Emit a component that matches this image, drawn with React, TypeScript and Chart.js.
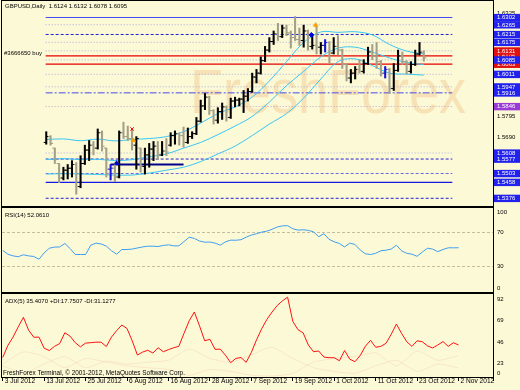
import React, { useEffect, useRef } from 'react';
import { Chart, registerables } from 'chart.js';

Chart.register(...registerables);

// ---------------- data ----------------
const symbolTitle = 'GBPUSD,Daily  1.6124 1.6132 1.6078 1.6095';
const orderLabel = '#3666650 buy';
const orderPrice = 1.6105;
const watermark = 'FreshForex';
const rsiTitle = 'RSI(14) 52.0610';
const adxTitle = 'ADX(5) 35.4070 +DI:17.7507 -DI:31.1277';
const footer = 'FreshForex Terminal, \u00A9 2001-2012, MetaQuotes Software Corp.';

const dateTickIndex = [0, 8, 16, 24, 32, 40, 48, 56, 64, 72, 80, 88];
const dateTickLabels = ['3 Jul 2012', '13 Jul 2012', '25 Jul 2012', '6 Aug 2012', '16 Aug 2012', '28 Aug 2012', '7 Sep 2012', '19 Sep 2012', '1 Oct 2012', '11 Oct 2012', '23 Oct 2012', '2 Nov 2012'];

const opens = [1.5662, 1.5692, 1.5633, 1.5554, 1.5480, 1.5520, 1.5530, 1.5549, 1.5436, 1.5554,
  1.5623, 1.5648, 1.5633, 1.5712, 1.5633, 1.5525, 1.5530, 1.5485, 1.5712, 1.5692,
  1.5682, 1.5648, 1.5633, 1.5539, 1.5598, 1.5628, 1.5643, 1.5598, 1.5618, 1.5648,
  1.5697, 1.5707, 1.5697, 1.5662, 1.5692, 1.5707, 1.5771, 1.5849, 1.5894, 1.5825,
  1.5776, 1.5820, 1.5844, 1.5790, 1.5874, 1.5879, 1.5884, 1.5899, 1.5923, 1.5997,
  1.6017, 1.6081, 1.6135, 1.6179, 1.6218, 1.6204, 1.6248, 1.6223, 1.6199, 1.6189,
  1.6184, 1.6233, 1.6154, 1.6159, 1.6150, 1.6159, 1.6174, 1.6120, 1.6154, 1.6135,
  1.6061, 1.5992, 1.6017, 1.6036, 1.6026, 1.6066, 1.6125, 1.6105, 1.6076, 1.6017,
  1.6036, 1.5938, 1.6031, 1.6105, 1.6076, 1.6026, 1.6061, 1.6115, 1.6124];
const highs = [1.5717, 1.5697, 1.5633, 1.5554, 1.5535, 1.5549, 1.5569, 1.5559, 1.5594, 1.5648,
  1.5672, 1.5667, 1.5731, 1.5721, 1.5633, 1.5549, 1.5559, 1.5721, 1.5766, 1.5746,
  1.5726, 1.5692, 1.5633, 1.5633, 1.5657, 1.5667, 1.5667, 1.5667, 1.5682, 1.5712,
  1.5721, 1.5712, 1.5741, 1.5736, 1.5717, 1.5790, 1.5879, 1.5913, 1.5899, 1.5830,
  1.5840, 1.5864, 1.5849, 1.5889, 1.5894, 1.5889, 1.5928, 1.5938, 1.6017, 1.6036,
  1.6100, 1.6154, 1.6199, 1.6233, 1.6272, 1.6263, 1.6263, 1.6233, 1.6307, 1.6248,
  1.6263, 1.6238, 1.6209, 1.6258, 1.6174, 1.6189, 1.6179, 1.6199, 1.6209, 1.6140,
  1.6066, 1.6036, 1.6051, 1.6086, 1.6086, 1.6150, 1.6164, 1.6174, 1.6081, 1.6051,
  1.6041, 1.6066, 1.6135, 1.6125, 1.6081, 1.6076, 1.6135, 1.6174, 1.6132];
const lows = [1.5653, 1.5648, 1.5554, 1.5456, 1.5470, 1.5475, 1.5485, 1.5397, 1.5430, 1.5549,
  1.5569, 1.5598, 1.5628, 1.5618, 1.5485, 1.5470, 1.5461, 1.5480, 1.5682, 1.5672,
  1.5623, 1.5525, 1.5510, 1.5500, 1.5535, 1.5569, 1.5574, 1.5594, 1.5594, 1.5643,
  1.5653, 1.5648, 1.5638, 1.5657, 1.5682, 1.5702, 1.5766, 1.5830, 1.5805, 1.5756,
  1.5761, 1.5780, 1.5771, 1.5785, 1.5844, 1.5849, 1.5815, 1.5874, 1.5918, 1.5967,
  1.6012, 1.6076, 1.6125, 1.6164, 1.6184, 1.6199, 1.6209, 1.6145, 1.6184, 1.6159,
  1.6150, 1.6135, 1.6140, 1.6115, 1.6115, 1.6125, 1.6066, 1.6115, 1.6110, 1.6041,
  1.5977, 1.5967, 1.5987, 1.6017, 1.6017, 1.6061, 1.6086, 1.6041, 1.6002, 1.5992,
  1.5913, 1.5928, 1.6026, 1.6061, 1.6012, 1.6017, 1.6056, 1.6110, 1.6078];
const closes = [1.5692, 1.5657, 1.5574, 1.5480, 1.5520, 1.5530, 1.5549, 1.5436, 1.5554, 1.5623,
  1.5648, 1.5633, 1.5712, 1.5643, 1.5525, 1.5530, 1.5485, 1.5712, 1.5692, 1.5682,
  1.5648, 1.5682, 1.5539, 1.5598, 1.5628, 1.5643, 1.5598, 1.5618, 1.5613, 1.5697,
  1.5707, 1.5697, 1.5662, 1.5692, 1.5707, 1.5771, 1.5849, 1.5894, 1.5825, 1.5776,
  1.5820, 1.5844, 1.5790, 1.5874, 1.5879, 1.5884, 1.5899, 1.5923, 1.5997, 1.6017,
  1.6081, 1.6135, 1.6179, 1.6218, 1.6204, 1.6248, 1.6223, 1.6199, 1.6189, 1.6184,
  1.6233, 1.6154, 1.6159, 1.6150, 1.6159, 1.6174, 1.6120, 1.6154, 1.6135, 1.6061,
  1.5992, 1.6017, 1.6036, 1.6026, 1.6066, 1.6125, 1.6105, 1.6076, 1.6017, 1.6036,
  1.5938, 1.6031, 1.6105, 1.6076, 1.6026, 1.6061, 1.6115, 1.6124, 1.6095];
const highlightedBars = [15, 65, 79];

// moving-average lines read at every 4th bar
const maIndex = [0, 4, 8, 12, 16, 20, 24, 28, 32, 36, 40, 44, 48, 52, 56, 60, 64, 68, 72, 76, 80, 84, 88];
const maFast = [1.5677, 1.5680, 1.5671, 1.5679, 1.5670, 1.5677, 1.5682, 1.5692, 1.5717, 1.5761, 1.5810, 1.5844, 1.5894, 1.5977, 1.6076, 1.6174, 1.6228, 1.6226, 1.6229, 1.6213, 1.6164, 1.6130, 1.6115];
const maMid = [1.5574, 1.5579, 1.5574, 1.5576, 1.5569, 1.5574, 1.5589, 1.5603, 1.5633, 1.5662, 1.5702, 1.5746, 1.5795, 1.5869, 1.5953, 1.6026, 1.6100, 1.6145, 1.6150, 1.6125, 1.6095, 1.6071, 1.6061];
const maSlow = [1.5500, 1.5502, 1.5500, 1.5498, 1.5495, 1.5495, 1.5505, 1.5520, 1.5535, 1.5564, 1.5603, 1.5643, 1.5697, 1.5756, 1.5810, 1.5889, 1.5987, 1.6076, 1.6090, 1.6056, 1.6017, 1.6012, 1.6007];

const priceTicks = [1.6325, 1.5795, 1.5690];
const levelPrices = [1.6302, 1.6265, 1.6215, 1.6175, 1.6131, 1.6105, 1.6085, 1.6063, 1.6011, 1.5947, 1.5916, 1.5846, 1.5608, 1.5577, 1.5503, 1.5458, 1.5376];

const tradeLineIndex = [15, 32];
const tradeLinePrice = 1.5549;
const markerIndex = [16.4, 20, 20.3, 61.8, 62.8];
const markerPrice = [1.5556, 1.5731, 1.5672, 1.6213, 1.6263];

const rsiValues = [49, 44.5, 42.5, 41.5, 43.8, 42.5, 41.8, 38.5, 46, 51.5,
  52.8, 53, 57.1, 51.2, 44.1, 44.1, 44.1, 55, 57.5, 56.5,
  54, 48.5, 44.5, 50, 50, 50.5, 51.8, 53, 53.9, 53.9,
  53.5, 54.8, 55.5, 54.3, 54.3, 59.3, 64.5, 63, 60, 58.6,
  58.8, 57.5, 55.1, 59, 61, 60.9, 61.5, 64.5, 67, 68.5,
  70.5, 71.6, 73.8, 76.5, 77.8, 78, 74.5, 72.8, 73.2, 72.5,
  70.8, 65, 68.5, 62, 59, 57.1, 53, 57.5, 56, 49.5,
  45, 44.1, 45.5, 48.5, 49.2, 50.5, 55, 48.5, 45.5, 44.5,
  42, 47, 51.5, 50.5, 47.5, 50, 52, 52, 52.06];
const rsiLevels = [70, 30];
const rsiTicks = [100, 70, 30, 0];

const adxValues = [29, 42, 51, 62, 72.3, 58.5, 50.8, 51, 39, 36.5,
  41, 44, 55.7, 52, 45, 40.5, 44.5, 45, 45.5, 45.5,
  40.8, 51, 58, 64, 60.2, 47, 31.7, 34.8, 36.8, 33.8,
  39.5, 35.2, 37.5, 39.5, 41, 55, 68.5, 78, 63, 47,
  48.6, 37.8, 38, 31.5, 23.4, 28, 29, 23.8, 34.5, 48,
  60, 70, 78, 85, 90, 94, 68, 59, 55.5, 42.5,
  35.2, 36, 29.5, 28.8, 28.8, 25.5, 36.5, 27.2, 24.5, 31,
  41, 47.5, 40, 41, 44.3, 54, 65, 55, 46, 41,
  47, 46, 41.5, 39.3, 42.5, 46.2, 41, 44.9, 42.5];
const diIndex = [0, 4, 8, 12, 16, 20, 24, 28, 32, 36, 40, 44, 48, 52, 56, 60, 64, 68, 72, 76, 80, 84, 88];
const plusDI = [20, 12, 22, 30, 18, 25, 22, 24, 26, 38, 28, 24, 32, 40, 28, 18, 14, 12, 20, 26, 14, 22, 17.75];
const minusDI = [22, 35, 30, 18, 28, 24, 20, 18, 16, 10, 16, 14, 10, 9, 12, 24, 28, 30, 34, 20, 36, 26, 31.13];
const adxTicks = [92, 69, 46, 23, 0];

// ---------------- styles ----------------
const FONT = '"Liberation Sans", Arial, sans-serif';
const BG = '#FCF9D6';
const X_MIN = -0.135;
const X_MAX = 94.65;
const UP = '#000000';
const DOWN = '#A39F88';
const BLUE_BAR = '#1414d8';
const MA_COLOR = '#38c6f4';
const BOX_BLUE = '#2222ee';
const BOX_RED = '#e01010';
const BOX_PURPLE = '#9a3ad6';
const DOT = [1, 2];
const DASH = [3, 2];
const DASHDOT = [7, 2, 2, 2];
const levelStyles = [
  { color: '#4646f4', dash: [], width: 1, box: BOX_BLUE },
  { color: '#aaaadc', dash: DOT, width: 1, box: BOX_BLUE },
  { color: '#2020d8', dash: DASH, width: 1, box: BOX_BLUE },
  { color: '#aaaadc', dash: DOT, width: 1, box: BOX_BLUE },
  { color: '#b4b0cc', dash: DOT, width: 1, box: BOX_RED },
  { color: '#e80000', dash: [], width: 1.2, box: BOX_RED },
  { color: '#aaaadc', dash: DOT, width: 1, box: BOX_BLUE },
  { color: '#e80000', dash: [], width: 1.2, box: BOX_RED },
  { color: '#aaaadc', dash: DOT, width: 1, box: BOX_BLUE },
  { color: '#aaaadc', dash: DOT, width: 1, box: BOX_BLUE },
  { color: '#4a4ae6', dash: DASHDOT, width: 1, box: BOX_BLUE },
  { color: '#c8a4c4', dash: DOT, width: 1, box: BOX_PURPLE },
  { color: '#aaaadc', dash: DOT, width: 1, box: BOX_BLUE },
  { color: '#2020d8', dash: DASH, width: 1, box: BOX_BLUE },
  { color: '#6a6ae4', dash: DASH, width: 1, box: BOX_BLUE },
  { color: '#1818e0', dash: [], width: 1.2, box: BOX_BLUE },
  { color: '#2020d8', dash: DASH, width: 1, box: BOX_BLUE },
];
const labelOrder = [0, 1, 2, 3, 5, 4, 7, 6, 8, 9, 10, 11, 12, 13, 14, 15, 16];
const markerStyles = ['triangle', 'crossRot', 'triangle', 'rectRot', 'triangle'];
const markerColors = ['#0000e0', '#ff0000', '#ffa000', '#0000e0', '#ffa000'];

// ---------------- helpers ----------------
const clamp = (v: number, lo: number, hi: number) => Math.min(Math.max(v, lo), hi);

function axisText(ctx: CanvasRenderingContext2D, text: string, y: number, box?: string) {
  ctx.font = `6px ${FONT}`;
  ctx.textAlign = 'left';
  ctx.textBaseline = 'middle';
  if (box) {
    ctx.fillStyle = box;
    ctx.fillRect(494, y - 3.6, 26, 7.4);
    ctx.fillStyle = '#ffffff';
  } else {
    ctx.fillStyle = '#000000';
  }
  ctx.fillText(text, 497, y + 0.3);
}

function plainText(ctx: CanvasRenderingContext2D, text: string, x: number, y: number, size = 6) {
  ctx.font = `${size}px ${FONT}`;
  ctx.textAlign = 'left';
  ctx.textBaseline = 'middle';
  ctx.fillStyle = '#000000';
  ctx.fillText(text, x, y);
}

const hiddenX = { type: 'linear', min: X_MIN, max: X_MAX, display: false };
const baseOptions = {
  responsive: false,
  animation: false,
  devicePixelRatio: 1,
  events: [],
  plugins: { legend: { display: false }, tooltip: { enabled: false }, title: { display: false } },
};

function mainConfig(): any {
  const idx = closes.map((_, i) => i);
  const colors = idx.map((i) => (highlightedBars.includes(i) ? BLUE_BAR : closes[i] >= opens[i] ? UP : DOWN));
  const levelSets = levelPrices.map((p, k) => ({
    type: 'line',
    data: [{ x: X_MIN, y: p }, { x: X_MAX, y: p }],
    borderColor: levelStyles[k].color,
    borderWidth: levelStyles[k].width,
    borderDash: levelStyles[k].dash,
    pointRadius: 0,
    order: 10,
  }));
  const maSet = (vals: number[]) => ({
    type: 'line',
    data: maIndex.map((x, k) => ({ x, y: vals[k] })),
    borderColor: MA_COLOR,
    borderWidth: 1,
    pointRadius: 0,
    tension: 0.35,
    order: 6,
  });
  const tick = (vals: number[], off: number) => ({
    type: 'line',
    showLine: false,
    data: idx.map((i) => ({ x: i + off, y: vals[i] })),
    pointStyle: 'line',
    pointRadius: 1.4,
    pointBorderWidth: 1,
    pointBorderColor: colors,
    pointBackgroundColor: colors,
    order: 2,
  });
  const plugin = {
    id: 'mainDeco',
    beforeDatasetsDraw(chart: any) {
      const { ctx } = chart;
      ctx.save();
      ctx.fillStyle = 'rgba(238,188,128,0.38)';
      ctx.font = `54px ${FONT}`;
      ctx.textBaseline = 'alphabetic';
      ctx.textAlign = 'left';
      ctx.translate(190, 113);
      ctx.scale(1, 1.17);
      ctx.fillText(watermark, 0, 0);
      ctx.restore();
    },
    afterDraw(chart: any) {
      const { ctx } = chart;
      const y = chart.scales.y;
      ctx.save();
      ctx.fillStyle = '#000';
      ctx.fillRect(1, 0, 1, 207);
      ctx.fillRect(1, 0, 493, 1);
      ctx.fillRect(1, 206, 493, 1);
      ctx.fillRect(493, 0, 1, 207);
      priceTicks.forEach((p) => axisText(ctx, p.toFixed(4), Math.max(y.getPixelForValue(p), 7)));
      labelOrder.forEach((k) => axisText(ctx, levelPrices[k].toFixed(4), y.getPixelForValue(levelPrices[k]), levelStyles[k].box));
      plainText(ctx, symbolTitle, 5, 6);
      plainText(ctx, orderLabel, 4, y.getPixelForValue(orderPrice) - 2.6);
      ctx.restore();
    },
  };
  return {
    type: 'line',
    data: {
      datasets: [
        ...levelSets,
        maSet(maFast),
        maSet(maMid),
        maSet(maSlow),
        {
          type: 'line',
          data: tradeLineIndex.map((x) => ({ x, y: tradeLinePrice })),
          borderColor: '#00008c',
          borderWidth: 2,
          pointRadius: 0,
          order: 4,
        },
        {
          type: 'bar',
          data: idx.map((i) => ({ x: i, y: [lows[i], highs[i]] })),
          backgroundColor: colors,
          borderWidth: 0,
          barThickness: 1.4,
          order: 3,
        },
        tick(opens, -0.26),
        tick(closes, 0.26),
        {
          type: 'line',
          showLine: false,
          data: markerIndex.map((x, k) => ({ x, y: markerPrice[k] })),
          pointStyle: markerStyles,
          pointRadius: 2.4,
          pointBorderWidth: 1,
          pointBorderColor: markerColors,
          pointBackgroundColor: markerColors,
          order: 1,
        },
      ],
    },
    options: {
      ...baseOptions,
      layout: { padding: { left: 2, right: 27, top: 1, bottom: 1 } },
      scales: { x: hiddenX, y: { type: 'linear', min: 1.5357, max: 1.6366, display: false } },
    },
    plugins: [plugin],
  };
}

function rsiConfig(): any {
  const idx = rsiValues.map((_, i) => i);
  const plugin = {
    id: 'rsiDeco',
    afterDraw(chart: any) {
      const { ctx } = chart;
      const y = chart.scales.y;
      ctx.save();
      ctx.fillStyle = '#000';
      ctx.fillRect(1, 0, 493, 1);
      ctx.fillRect(1, 0, 1, 86);
      ctx.fillRect(1, 85, 493, 1);
      ctx.fillRect(493, 0, 1, 86);
      rsiTicks.forEach((v) => axisText(ctx, String(v), clamp(y.getPixelForValue(v), 5.5, 81)));
      plainText(ctx, rsiTitle, 5, 8);
      ctx.restore();
    },
  };
  return {
    type: 'line',
    data: {
      datasets: [
        ...rsiLevels.map((v) => ({
          type: 'line',
          data: [{ x: X_MIN, y: v }, { x: X_MAX, y: v }],
          borderColor: 'rgba(150,140,118,0.55)',
          borderWidth: 1,
          borderDash: [3, 2],
          pointRadius: 0,
          order: 5,
        })),
        {
          type: 'line',
          data: idx.map((i) => ({ x: i, y: rsiValues[i] })),
          borderColor: '#3f9ef0',
          borderWidth: 1,
          pointRadius: 0,
          order: 1,
        },
      ],
    },
    options: {
      ...baseOptions,
      layout: { padding: { left: 2, right: 27, top: 0, bottom: 1 } },
      scales: { x: hiddenX, y: { type: 'linear', min: 0, max: 100, display: false } },
    },
    plugins: [plugin],
  };
}

function adxConfig(): any {
  const idx = adxValues.map((_, i) => i);
  const plugin = {
    id: 'adxDeco',
    afterDraw(chart: any) {
      const { ctx } = chart;
      const y = chart.scales.y;
      ctx.save();
      ctx.fillStyle = '#000';
      ctx.fillRect(1, 0, 493, 1);
      ctx.fillRect(1, 0, 1, 85);
      ctx.fillRect(493, 0, 1, 88);
      adxTicks.forEach((v) => axisText(ctx, String(v), clamp(y.getPixelForValue(v), 6, 80.5)));
      plainText(ctx, adxTitle, 5, 8);
      plainText(ctx, footer, 3, 80.5, 6.4);
      ctx.restore();
    },
  };
  const di = (vals: number[]) => ({
    type: 'line',
    data: diIndex.map((x, k) => ({ x, y: vals[k] })),
    borderColor: 'rgba(236,160,150,0.2)',
    borderWidth: 1,
    pointRadius: 0,
    tension: 0.2,
    order: 5,
  });
  return {
    type: 'line',
    data: {
      datasets: [
        di(plusDI),
        di(minusDI),
        {
          type: 'line',
          data: idx.map((i) => ({ x: i, y: adxValues[i] })),
          borderColor: '#ff1010',
          borderWidth: 1,
          pointRadius: 0,
          order: 1,
        },
      ],
    },
    options: {
      ...baseOptions,
      layout: { padding: { left: 2, right: 27, top: 1, bottom: 0 } },
      scales: {
        x: {
          type: 'linear',
          min: X_MIN,
          max: X_MAX,
          position: 'bottom',
          afterBuildTicks: (s: any) => {
            s.ticks = dateTickIndex.map((v) => ({ value: v }));
          },
          afterFit: (s: any) => {
            s.height = 13;
            s.paddingLeft = 0;
            s.paddingRight = 0;
          },
          grid: { drawOnChartArea: false, drawTicks: true, tickLength: 4, color: '#000', tickColor: '#000' },
          border: { display: true, color: '#000', width: 1 },
          ticks: {
            autoSkip: false,
            maxRotation: 0,
            minRotation: 0,
            align: 'start',
            labelOffset: 2,
            padding: -4,
            color: '#000',
            font: { family: FONT, size: 6.6 },
            callback: (_v: any, i: number) => dateTickLabels[i],
          },
        },
        y: { type: 'linear', min: 8, max: 97.4, display: false },
      },
    },
    plugins: [plugin],
  };
}

export default function App() {
  const mainRef = useRef<HTMLCanvasElement>(null);
  const rsiRef = useRef<HTMLCanvasElement>(null);
  const adxRef = useRef<HTMLCanvasElement>(null);

  useEffect(() => {
    const charts = [
      new Chart(mainRef.current as HTMLCanvasElement, mainConfig()),
      new Chart(rsiRef.current as HTMLCanvasElement, rsiConfig()),
      new Chart(adxRef.current as HTMLCanvasElement, adxConfig()),
    ];
    return () => charts.forEach((c) => c.destroy());
  }, []);

  const abs = (top: number, h: number): React.CSSProperties => ({ position: 'absolute', left: 0, top, width: 520, height: h, display: 'block' });

  return (
    <div style={{ position: 'fixed', left: 0, top: 0, width: 520, height: 390, background: BG, overflow: 'hidden' }}>
      <canvas ref={mainRef} width={520} height={207} style={abs(0, 207)} />
      <canvas ref={rsiRef} width={520} height={86} style={abs(207, 86)} />
      <canvas ref={adxRef} width={520} height={97} style={abs(293, 97)} />
    </div>
  );
}
